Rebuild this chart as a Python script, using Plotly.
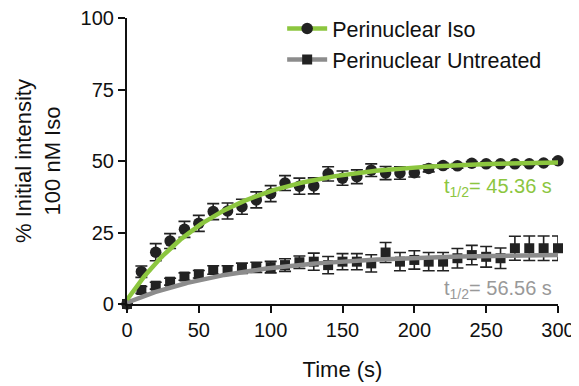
import numpy as np
import plotly.graph_objects as go

time_s = list(range(0, 301, 10))

iso_mean = [0, 11.3, 18.1, 22.0, 26.1, 28.2, 32.3, 32.5, 34.0, 36.4,
            38.6, 42.3, 41.2, 41.3, 45.5, 44.0, 44.5, 46.8, 45.8, 45.8,
            45.9, 47.4, 48.4, 48.3, 49.2, 49.0, 49.0, 49.0, 49.0, 49.3, 50.1]
iso_err = [0, 2.0, 3.0, 2.6, 2.8, 2.8, 2.8, 2.8, 2.6, 2.8,
           2.8, 2.6, 2.8, 2.8, 2.5, 2.5, 2.4, 2.2, 2.3, 2.2,
           1.5, 1.2, 0.8, 0.8, 0.6, 0.6, 0.5, 0.5, 0.5, 0.5, 0.5]

unt_mean = [0, 4.9, 6.4, 7.8, 9.6, 10.4, 11.9, 11.9, 12.5, 12.8,
            12.9, 13.6, 14.6, 14.8, 13.6, 14.8, 14.8, 14.2, 18.0, 14.8,
            15.4, 14.8, 14.8, 16.0, 17.1, 16.5, 16.0, 19.5, 19.5, 19.5, 19.5]
unt_err = [0, 1.2, 1.2, 1.2, 1.3, 1.3, 1.5, 1.5, 1.8, 1.8,
           2.0, 2.2, 2.2, 3.0, 3.0, 2.8, 2.8, 3.0, 3.5, 3.2,
           3.2, 3.2, 3.2, 3.4, 3.4, 3.6, 3.6, 4.2, 4.3, 4.3, 4.3]

iso_plateau, iso_y0, iso_thalf = 50.0, 1.5, 45.36
unt_plateau, unt_y0, unt_thalf = 17.6, 0.5, 56.56

GREEN = "#8CC63F"
GRAY = "#8C8C8C"
MARK = "#222222"

tfit = np.linspace(0, 300, 301)
def assoc(y0, plateau, thalf):
    k = np.log(2) / thalf
    return y0 + (plateau - y0) * (1 - np.exp(-k * tfit))

fig = go.Figure()
fig.add_trace(go.Scatter(x=time_s, y=unt_mean, mode="markers",
    marker=dict(symbol="square", size=10, color=MARK),
    error_y=dict(type="data", array=unt_err, color=MARK, thickness=1.6, width=6),
    showlegend=False, cliponaxis=False))
fig.add_trace(go.Scatter(x=time_s, y=iso_mean, mode="markers",
    marker=dict(symbol="circle", size=11.5, color=MARK),
    error_y=dict(type="data", array=iso_err, color=MARK, thickness=1.6, width=6),
    showlegend=False, cliponaxis=False))
fig.add_trace(go.Scatter(x=tfit, y=assoc(unt_y0, unt_plateau, unt_thalf), mode="lines",
    line=dict(color=GRAY, width=4.5), showlegend=False, cliponaxis=False))
fig.add_trace(go.Scatter(x=tfit, y=assoc(iso_y0, iso_plateau, iso_thalf), mode="lines",
    line=dict(color=GREEN, width=4.5), showlegend=False, cliponaxis=False))
fig.add_trace(go.Scatter(x=[None], y=[None], mode="lines+markers", name="Perinuclear Iso",
    line=dict(color=GREEN, width=4.5), marker=dict(symbol="circle", size=11.5, color=MARK)))
fig.add_trace(go.Scatter(x=[None], y=[None], mode="lines+markers", name="Perinuclear Untreated",
    line=dict(color=GRAY, width=4.5), marker=dict(symbol="square", size=10, color=MARK)))

font = "Liberation Sans, Arial, sans-serif"
fig.update_layout(
    width=579, height=386,
    margin=dict(l=119, r=29, t=10, b=90, autoexpand=False),
    paper_bgcolor="white", plot_bgcolor="white",
    font=dict(family=font, size=20, color="#111111"),
    showlegend=True,
    legend=dict(x=0.36, y=1.0, xanchor="left", yanchor="top", yref="container",
                font=dict(size=21.5, color="#111111"), bgcolor="rgba(0,0,0,0)",
                tracegroupgap=0, itemwidth=40),
    xaxis=dict(range=[0, 300], tickvals=[0, 50, 100, 150, 200, 250, 300],
               showline=True, linecolor="#111111", linewidth=2.2,
               ticks="outside", ticklen=7, tickwidth=2.2, tickcolor="#111111",
               showgrid=False, zeroline=False, ticklabeloverflow="allow",
               tickfont=dict(size=20),
               title=dict(text="Time (s)", font=dict(size=22), standoff=22)),
    yaxis=dict(range=[0, 100], tickvals=[0, 25, 50, 75, 100],
               showline=True, linecolor="#111111", linewidth=2.2,
               ticks="outside", ticklen=7, tickwidth=2.2, tickcolor="#111111",
               showgrid=False, zeroline=False, ticklabeloverflow="allow",
               tickfont=dict(size=20),
               title=dict(text="% Initial intensity<br>100 nM Iso", font=dict(size=22), standoff=14)),
    annotations=[
        dict(x=297, y=40.6, xref="x", yref="y", xanchor="right", yanchor="middle",
             text="t<sub>1/2</sub>= 45.36 s", showarrow=False,
             font=dict(size=20, color=GREEN, family=font)),
        dict(x=297, y=4.9, xref="x", yref="y", xanchor="right", yanchor="middle",
             text="t<sub>1/2</sub>= 56.56 s", showarrow=False,
             font=dict(size=20, color="#999999", family=font)),
    ],
)

fig.write_html("out.html")
